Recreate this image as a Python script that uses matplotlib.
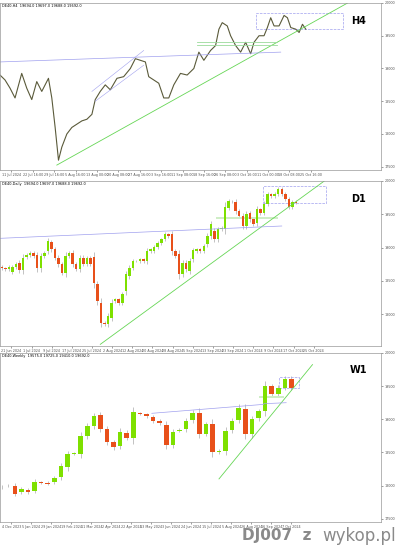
import matplotlib
matplotlib.use("Agg")
import matplotlib.pyplot as plt
import numpy as np

W, H = 400, 548
GREEN = "#7ee000"
RED = "#e8501a"
TREND = "#66d655"
BLUE = "#a0a0ee"

# readings, in chart units (price = 20000 - 5*reading)
def px(v):
    return 20000 - 5 * np.asarray(v, dtype=float)

# ---- H4 close path ----
h4_bar = [0, 3, 6, 9, 13, 16, 19, 22, 25, 29, 31, 33, 35, 37, 40, 43, 46, 49, 52, 55, 57, 60, 63, 66, 70,
          74, 78, 81, 84, 87, 89, 92, 95, 98, 101, 104, 108, 112, 116, 119, 122, 126, 129, 131, 133, 136,
          138, 141, 144, 147, 150, 152, 155, 158, 160, 162, 164, 167, 170, 172, 174, 177, 179, 181, 183]
h4_read = [220, 235, 260, 290, 215, 260, 295, 240, 270, 230, 290, 380, 480, 440, 400, 380, 370, 360, 355,
           340, 295, 270, 250, 265, 230, 225, 200, 170, 175, 180, 225, 235, 245, 290, 290, 250, 215, 220,
           200, 150, 175, 145, 130, 80, 60, 70, 100, 130, 150, 120, 155, 120, 100, 100, 75, 45, 70, 70, 38,
           45, 75, 80, 90, 65, 80]
h4_close = px(h4_read)
h4_dates = ["11 Jul 2024", "22 Jul 16:00", "29 Jul 16:00", "5 Aug 16:00", "13 Aug 00:00", "20 Aug 08:00",
            "27 Aug 16:00", "3 Sep 16:00", "11 Sep 08:00", "18 Sep 16:00", "26 Sep 08:00", "3 Oct 16:00",
            "11 Oct 00:00", "18 Oct 08:00", "25 Oct 16:00"]

# ---- D1 candles ----
d1_open = [258, 262, 265, 272, 258, 245, 268, 228, 222, 215, 222, 262, 225, 210, 183, 205, 230, 250, 275,
           225, 215, 250, 265, 230, 248, 232, 228, 310, 365, 425, 430, 410, 360, 355, 365, 330, 285, 260,
           240, 240, 235, 240, 210, 210, 198, 185, 175, 160, 160, 210, 220, 280, 245, 270, 235, 210, 205,
           210, 190, 165, 150, 175, 145, 145, 80, 62, 62, 90, 105, 135, 97, 115, 125, 85, 95, 68, 40, 45,
           40, 25, 40, 55, 78, 62]
d1_close = [262, 265, 258, 258, 248, 268, 230, 222, 215, 225, 262, 225, 215, 180, 205, 230, 250, 275, 225,
            215, 250, 265, 230, 248, 232, 248, 305, 360, 425, 430, 405, 365, 355, 365, 340, 280, 260, 240,
            240, 235, 240, 210, 205, 198, 185, 175, 160, 165, 210, 225, 280, 245, 265, 240, 208, 205, 210,
            195, 165, 130, 175, 145, 140, 78, 60, 62, 90, 105, 135, 100, 115, 130, 85, 95, 68, 40, 45, 38,
            25, 40, 55, 78, 62, 65]
d1_dates = ["21 Jun 2024", "1 Jul 2024", "9 Jul 2024", "17 Jul 2024", "25 Jul 2024", "2 Aug 2024",
            "12 Aug 2024", "20 Aug 2024", "28 Aug 2024", "5 Sep 2024", "13 Sep 2024", "23 Sep 2024",
            "1 Oct 2024", "9 Oct 2024", "17 Oct 2024", "25 Oct 2024"]

# ---- W1 candles ----
w1_open = [405, 400, 400, 420, 412, 415, 390, 392, 390, 375, 345, 305, 305, 250, 220, 188, 230, 268, 280,
           240, 258, 182, 185, 193, 205, 218, 278, 235, 230, 203, 180, 243, 215, 300, 295, 232, 203, 170,
           245, 197, 175, 100, 125, 105, 78]
w1_close = [403, 400, 425, 410, 420, 388, 392, 395, 378, 340, 305, 303, 250, 220, 190, 228, 268, 285, 238,
            255, 178, 184, 190, 205, 212, 278, 238, 232, 205, 180, 243, 215, 298, 295, 235, 205, 165, 245,
            200, 175, 100, 125, 105, 78, 105]
w1_dates = ["4 Dec 2023", "5 Jan 2024", "29 Jan 2024", "19 Feb 2024", "11 Mar 2024", "2 Apr 2024",
            "22 Apr 2024", "13 May 2024", "3 Jun 2024", "24 Jun 2024", "15 Jul 2024", "5 Aug 2024",
            "26 Aug 2024", "16 Sep 2024", "7 Oct 2024"]


def make_ax(top, bottom):
    ax = fig.add_axes([0.0, 1 - bottom / H, 381 / W, (bottom - top) / H])
    ax.yaxis.tick_right()
    ax.tick_params(labelsize=2.4, length=1.5, width=0.4, colors="#555555", pad=1)
    for s in ax.spines.values():
        s.set_color("#999999")
        s.set_linewidth(0.5)
    return ax


def candles(ax, o, c, width=0.6):
    o, c = px(o), px(c)
    x = np.arange(len(o))
    up = c >= o
    span = np.abs(c - o)
    hi = np.maximum(o, c) + 20 + span * 0.15
    lo = np.minimum(o, c) - 20 - span * 0.15
    ax.vlines(x, lo, hi, color="#aaaaaa", lw=0.5, zorder=1)
    ax.bar(x[up], (c - o)[up], bottom=o[up], width=width, color=GREEN, zorder=2)
    ax.bar(x[~up], (c - o)[~up], bottom=o[~up], width=width, color=RED, zorder=2)
    return x


def date_ticks(ax, labels, end):
    x0, x1 = ax.get_xlim()
    pos = np.linspace(x0 + 0.03 * (x1 - x0), end, len(labels))
    ax.set_xticks(pos)
    ax.set_xticklabels(labels)


fig = plt.figure(figsize=(W / 100, H / 100), dpi=100)

# H4
ax1 = make_ax(3, 170)
ax1.plot(h4_bar, h4_close, color="#5a5a3a", lw=0.8)
ax1.plot([34, 208], px([495, 0]), color=TREND, lw=0.6)
ax1.plot([0, 168], px([180, 150]), color=BLUE, lw=0.5)
ax1.plot([55, 86], px([270, 145]), color=BLUE, lw=0.4)
ax1.plot([57, 86], px([300, 190]), color=BLUE, lw=0.4)
ax1.plot([118, 166], px([120, 120]), color="#9ada9a", lw=0.6)
ax1.plot([118, 166], px([127, 127]), color="#9ada9a", lw=0.6)
ax1.add_patch(plt.Rectangle((153, px(78)), 52, px(32) - px(78), fill=False, ls="--", lw=0.5, ec=BLUE))
ax1.set_xlim(0, 228)
ax1.set_ylim(px(510), px(0))
date_ticks(ax1, h4_dates, 186)
ax1.text(0.94, 0.92, "H4", transform=ax1.transAxes, fontsize=7, fontweight="bold", ha="center", va="top")
ax1.text(0.005, 0.995, "DE40,H4  19694.0 19697.0 19688.0 19692.0", transform=ax1.transAxes, fontsize=2.5, va="top")

# D1
ax2 = make_ax(181, 346)
x2 = candles(ax2, d1_open, d1_close, width=0.7)
ax2.plot([27.8, 91], px([490, 0]), color=TREND, lw=0.6)
ax2.plot([-0.5, 79], px([172, 135]), color=BLUE, lw=0.5)
ax2.axhspan(px(115), px(108), xmin=60.9 / 107.5, xmax=78.5 / 107.5, color="#cfeec6", lw=0)
ax2.add_patch(plt.Rectangle((73.6, px(67)), 17.9, px(15) - px(67), fill=False, ls="--", lw=0.5, ec=BLUE))
ax2.set_xlim(-0.5, 107)
ax2.set_ylim(px(495), px(0))
date_ticks(ax2, d1_dates, 88)
ax2.text(0.94, 0.92, "D1", transform=ax2.transAxes, fontsize=7, fontweight="bold", ha="center", va="top")
ax2.text(0.005, 0.995, "DE40,Daily  19694.0 19697.0 19688.0 19692.0", transform=ax2.transAxes, fontsize=2.5, va="top")

# W1
ax3 = make_ax(353, 522)
x3 = candles(ax3, w1_open, w1_close, width=0.7)
ax3.plot([33, 47.2], px([380, 35]), color=TREND, lw=0.6)
ax3.plot([22.8, 39.8], px([182, 155]), color=BLUE, lw=0.5)
ax3.plot([39.8, 43.2], px([153, 150]), color=BLUE, lw=0.5)
ax3.axhspan(px(137), px(131), xmin=39.3 / 57.9, xmax=43.2 / 57.9, color="#cfeec6", lw=0)
ax3.add_patch(plt.Rectangle((42.1, px(105)), 3.1, px(73) - px(105), fill=False, ls="--", lw=0.5, ec=BLUE))
ax3.set_xlim(-0.25, 57.6)
ax3.set_ylim(px(510), px(0))
date_ticks(ax3, w1_dates, 44)
ax3.text(0.94, 0.93, "W1", transform=ax3.transAxes, fontsize=7, fontweight="bold", ha="center", va="top")
ax3.text(0.005, 0.995, "DE40,Weekly  19575.0 19725.0 19410.0 19692.0", transform=ax3.transAxes, fontsize=2.5, va="top")

fig.text(0.78, 0.022, "DJ007  z", fontsize=11, color="#8a8a8a", ha="right", va="center", fontweight="bold")
fig.text(0.99, 0.022, "wykop.pl", fontsize=12, color="#8a8a8a", ha="right", va="center")

fig.savefig("out.png", dpi=100)
